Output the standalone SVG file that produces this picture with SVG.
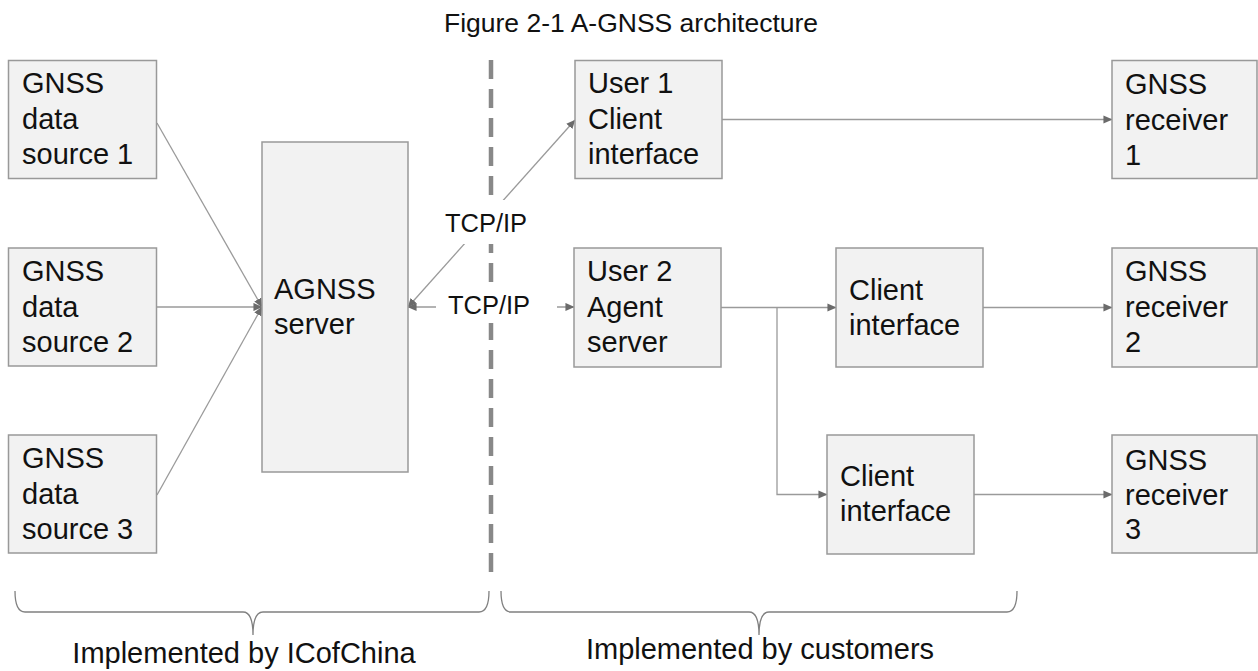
<svg xmlns="http://www.w3.org/2000/svg" width="1258" height="671" viewBox="0 0 1258 671">
<style>
.box{fill:#f2f2f2;stroke:#999999;stroke-width:1.5}
.t{font-family:"Liberation Sans",Arial,sans-serif;font-size:29px;fill:#111111}
.lbl{font-family:"Liberation Sans",Arial,sans-serif;font-size:25.5px;fill:#111111}
.title{font-family:"Liberation Sans",Arial,sans-serif;font-size:26.5px;fill:#111111}
.big{font-family:"Liberation Sans",Arial,sans-serif;font-size:29px;fill:#111111}
.c{fill:none;stroke:#9a9a9a;stroke-width:1.3}
.brace{fill:none;stroke:#808080;stroke-width:1.3}
</style>
<defs>
<marker id="ah" viewBox="0 0 10 10" refX="9.5" refY="5" markerWidth="9" markerHeight="9" markerUnits="userSpaceOnUse" orient="auto-start-reverse">
<path d="M0,0.5 L10,5 L0,9.5 z" fill="#6b6b6b"/>
</marker>
</defs>
<rect width="1258" height="671" fill="#ffffff"/>
<text class="title" x="631" y="32" text-anchor="middle">Figure 2-1 A-GNSS architecture</text>

<g id="separator">
<line x1="491" y1="60" x2="491" y2="572" stroke="#888888" stroke-width="4.5" stroke-dasharray="19 10"/>
</g>

<g id="connectors">
<path class="c" d="M157,123 L262,307" marker-end="url(#ah)"/>
<path class="c" d="M157,307 L262,307" marker-end="url(#ah)"/>
<path class="c" d="M157,495 L262,307" marker-end="url(#ah)"/>
<path class="c" d="M408,307 L575,120" marker-start="url(#ah)" marker-end="url(#ah)"/>
<path class="c" d="M408,307 L574,307" marker-start="url(#ah)" marker-end="url(#ah)"/>
<path class="c" d="M722,119.5 L1112,119.5" marker-end="url(#ah)"/>
<path class="c" d="M721,307.5 L836,307.5" marker-end="url(#ah)"/>
<path class="c" d="M777,307.5 L777,494.5 L827,494.5" marker-end="url(#ah)"/>
<path class="c" d="M983,307.5 L1112,307.5" marker-end="url(#ah)"/>
<path class="c" d="M974,494.5 L1112,494.5" marker-end="url(#ah)"/>
<rect x="440" y="200" width="92" height="44" fill="#ffffff"/>
<text class="lbl" x="486" y="232" text-anchor="middle">TCP/IP</text>
<rect x="436" y="289" width="121" height="34" fill="#ffffff"/>
<text class="lbl" x="489" y="314" text-anchor="middle">TCP/IP</text>
</g>

<g id="src1"><rect class="box" x="8.5" y="60.5" width="148" height="118"/>
<text class="t" x="22" y="93">GNSS</text><text class="t" x="22" y="129">data</text><text class="t" x="22" y="164">source 1</text></g>
<g id="src2"><rect class="box" x="8.5" y="248" width="148" height="118"/>
<text class="t" x="22" y="281">GNSS</text><text class="t" x="22" y="317">data</text><text class="t" x="22" y="352">source 2</text></g>
<g id="src3"><rect class="box" x="8.5" y="435" width="148" height="118"/>
<text class="t" x="22" y="468">GNSS</text><text class="t" x="22" y="504">data</text><text class="t" x="22" y="539">source 3</text></g>
<g id="agnss"><rect class="box" x="262" y="142" width="146" height="330"/>
<text class="t" x="274" y="299">AGNSS</text><text class="t" x="274" y="334">server</text></g>
<g id="user1"><rect class="box" x="575" y="60.5" width="147" height="118"/>
<text class="t" x="588" y="93">User 1</text><text class="t" x="588" y="129">Client</text><text class="t" x="588" y="164">interface</text></g>
<g id="user2"><rect class="box" x="574" y="248" width="147" height="119"/>
<text class="t" x="587" y="281">User 2</text><text class="t" x="587" y="317">Agent</text><text class="t" x="587" y="352">server</text></g>
<g id="client2"><rect class="box" x="836" y="248" width="147" height="119"/>
<text class="t" x="849" y="300">Client</text><text class="t" x="849" y="335">interface</text></g>
<g id="client3"><rect class="box" x="827" y="435" width="147" height="119"/>
<text class="t" x="840" y="486">Client</text><text class="t" x="840" y="521">interface</text></g>
<g id="recv1"><rect class="box" x="1112" y="60.5" width="145" height="118"/>
<text class="t" x="1125" y="94">GNSS</text><text class="t" x="1125" y="130">receiver</text><text class="t" x="1125" y="165">1</text></g>
<g id="recv2"><rect class="box" x="1112" y="248" width="145" height="119"/>
<text class="t" x="1125" y="281">GNSS</text><text class="t" x="1125" y="317">receiver</text><text class="t" x="1125" y="352">2</text></g>
<g id="recv3"><rect class="box" x="1112" y="435" width="145" height="118"/>
<text class="t" x="1125" y="470">GNSS</text><text class="t" x="1125" y="505">receiver</text><text class="t" x="1125" y="539">3</text></g>

<g id="braces">
<path class="brace" d="M15,591 Q15,612 25,612 L243,612 Q253,612 253,635 Q253,612 263,612 L479,612 Q489,612 489,591"/>
<path class="brace" d="M501,591 Q501,612 511,612 L749,612 Q759,612 759,635 Q759,612 769,612 L1007,612 Q1017,612 1017,591"/>
<text class="big" x="244" y="663" text-anchor="middle">Implemented by ICofChina</text>
<text class="big" x="760" y="659" text-anchor="middle">Implemented by customers</text>
</g>
</svg>
